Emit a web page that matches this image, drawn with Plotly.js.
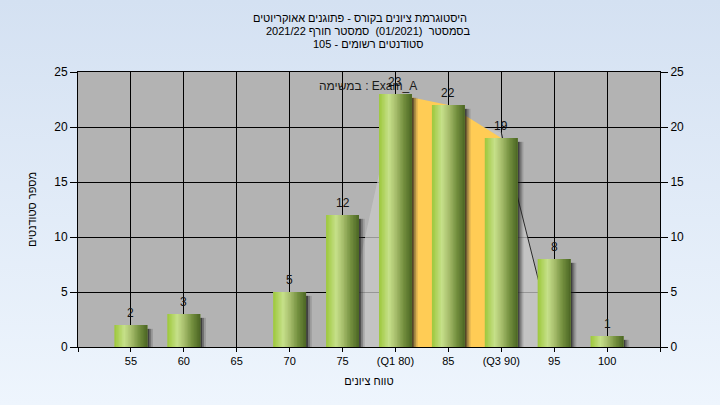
<!DOCTYPE html>
<html><head><meta charset="utf-8">
<script src="https://cdn.plot.ly/plotly-3.0.1.min.js"></script>
<style>
html,body{margin:0;padding:0;}
body{width:720px;height:405px;background:linear-gradient(#D4E1F2,#EEF5FD);}
#chart{width:720px;height:405px;}
</style>
</head><body><div id="chart"></div>
<script>
// ---- data ----
const grades = [55, 60, 65, 70, 75, 80, 85, 90, 95, 100];
const counts = [2, 3, 0, 5, 12, 23, 22, 19, 8, 1];
const tickLabels = ['55', '60', '65', '70', '75', '(Q1 80)', '85', '(Q3 90)', '95', '100'];
const xRange = [50, 105];
const q1Grade = 80, q3Grade = 90;
// fitted distribution outline (light grey area behind the bars)
const curveX = [75, 80, 85, 90, 95];
const curveY = [0.7, 22.5, 21, 19.5, 0.4];
const titleLines = ['היסטוגרמת ציונים בקורס - פתוגנים אאוקריוטים',
                    'בסמסטר  (01/2021)  סמסטר חורף 2021/22',
                    'סטודנטים רשומים - 105'];
const taskLabel = 'במשימה : Exam_A';
const xTitle = 'טווח ציונים';
const yTitle = 'מספר סטודנטים';

// ---- styling ----
const FONT = 'Arial, "Liberation Sans", "DejaVu Sans", sans-serif';
const barW = 3.1;
const gradStops = [[0,[157,200,59]],[0.3,[198,224,138]],[0.5,[169,191,110]],[0.75,[116,144,63]],[1,[75,101,36]]];
function gradColor(t){
  for(let k=0;k<gradStops.length-1;k++){
    const [t0,c0]=gradStops[k],[t1,c1]=gradStops[k+1];
    if(t<=t1){const f=(t-t0)/(t1-t0);
      return 'rgb('+c0.map((c,j)=>Math.round(c+(c1[j]-c)*f)).join(',')+')';}
  }
  return 'rgb('+gradStops[gradStops.length-1][1].join(',')+')';
}
const nStrips = 22;

const traces = [];
const qIdx = grades.map((g,i)=>i).filter(i => grades[i] >= q1Grade && grades[i] <= q3Grade);
// grey distribution area
traces.push({type:'scatter', x:curveX, y:curveY, mode:'lines', fill:'tozeroy',
  fillcolor:'rgba(200,200,200,0.75)', line:{width:0, color:'rgba(0,0,0,0)'},
  hoverinfo:'skip', showlegend:false, xaxis:'x', yaxis:'y'});
traces.push({type:'scatter', x:curveX.slice(3), y:curveY.slice(3), mode:'lines',
  line:{width:1, color:'#2a2a2a'}, hoverinfo:'skip', showlegend:false, xaxis:'x', yaxis:'y'});
// Q1..Q3 area (orange)
traces.push({type:'scatter', x:qIdx.map(i=>grades[i]), y:qIdx.map(i=>counts[i]), mode:'lines',
  fill:'tozeroy', fillcolor:'#FFCC55', line:{width:0, color:'#FFCC55'},
  hoverinfo:'skip', showlegend:false, xaxis:'x', yaxis:'y'});

// bar shadows
const shadowCols = ['rgba(25,25,25,0.75)','rgba(40,40,40,0.45)','rgba(60,60,60,0.2)'];
shadowCols.forEach((c,k)=>{
  traces.push({type:'bar', x:grades, y:counts.map(v=>Math.max(v-0.35,0)),
    width:0.2, offset:barW/2 - 0.02 + k*0.18, marker:{color:c, line:{width:0}},
    hoverinfo:'skip', showlegend:false, xaxis:'x2', yaxis:'y2'});
});
// base of each bar (full width, mid colour) so no seams show through
traces.push({type:'bar', x:grades, y:counts, width:barW, offset:-barW/2,
  marker:{color:gradColor(0.5), line:{width:0}}, hoverinfo:'skip', showlegend:false,
  xaxis:'x2', yaxis:'y2'});
// cylindrical shading made of overlapping strips
const sw = barW / nStrips;
for(let k=0;k<nStrips;k++){
  const last = k === nStrips - 1;
  traces.push({type:'bar', x:grades, y:counts, width: last ? sw : sw*2, offset:-barW/2 + k*sw,
    marker:{color:gradColor((k+0.5)/nStrips), line:{width:0}}, hoverinfo:'skip', showlegend:false,
    xaxis:'x2', yaxis:'y2'});
}

// value labels above bars
const valueLabels = grades.map((g,i)=>({
  text: counts[i] ? String(counts[i]) : '', x:g, y:counts[i], xref:'x2', yref:'y2',
  xanchor:'center', yanchor:'middle', yshift:12, showarrow:false,
  font:{family:FONT, size:12, color:'#111'}
})).filter(a => a.text);

const titleAnn = titleLines.slice(1).map((t,k)=>({
  text:t, xref:'paper', yref:'paper', x:0.5 - 1/582, y:(347-(31+13*k))/275,
  xanchor:'center', yanchor:'middle', showarrow:false,
  font:{family:FONT, size:11, color:'#000'}
}));

const layout = {
  width:720, height:405,
  margin:{l:78, r:60, t:72, b:58},
  paper_bgcolor:'rgba(0,0,0,0)',
  plot_bgcolor:'#B3B3B3',
  font:{family:FONT, size:12, color:'#000'},
  barmode:'overlay',
  showlegend:false,
  title:{text:titleLines[0], font:{family:FONT, size:11, color:'#000'},
    x:0.5, xanchor:'center', yref:'container', y:1-18/405, yanchor:'middle'},
  xaxis:{range:xRange, tickmode:'array',
    tickvals:[xRange[0]].concat(grades, [xRange[1]]), ticktext:[''].concat(tickLabels, ['']),
    showgrid:true, gridcolor:'#000', gridwidth:1, zeroline:false,
    ticks:'outside', ticklen:4, tickcolor:'#000', showline:true, linecolor:'#000', mirror:true,
    tickfont:{family:FONT, size:11, color:'#000'},
    title:{text:xTitle, font:{family:FONT, size:11, color:'#000'}, standoff:11}},
  yaxis:{range:[0,25], dtick:5, showgrid:true, gridcolor:'#000', gridwidth:1, zeroline:false,
    ticks:'outside', ticklen:7, tickcolor:'#000', showline:true, linecolor:'#000',
    tickfont:{family:FONT, size:12, color:'#000'},
    title:{text:yTitle, font:{family:FONT, size:11, color:'#000'}, standoff:15}},
  xaxis2:{overlaying:'x', range:xRange, visible:false, showgrid:false, zeroline:false},
  yaxis2:{overlaying:'y', side:'right', range:[0,25], dtick:5, showgrid:false, zeroline:false,
    ticks:'outside', ticklen:7, tickcolor:'#000', showline:true, linecolor:'#000',
    tickfont:{family:FONT, size:12, color:'#000'}},
  annotations:[{text:taskLabel, xref:'paper', yref:'paper', x:(368-78)/582, y:(347-86)/275,
    xanchor:'center', yanchor:'middle', showarrow:false,
    font:{family:FONT, size:12, color:'#1a1a1a'}}].concat(titleAnn, valueLabels)
};
Plotly.newPlot('chart', traces, layout, {displayModeBar:false, staticPlot:true});
</script>
</body></html>
